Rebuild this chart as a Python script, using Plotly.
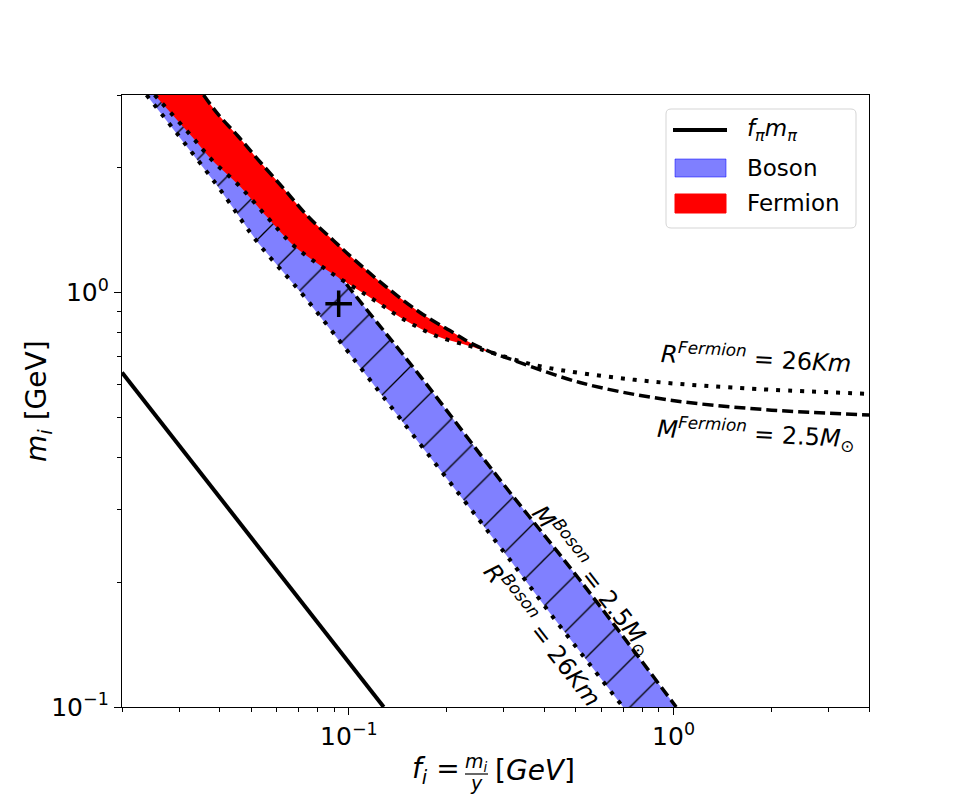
import plotly.graph_objects as go
import numpy as np

# f_pi * m_pi line
fpi_f = [0.02, 0.128]
fpi_m = [0.642, 0.1]

# Boson band edges
r_boson_f = [0.0238, 0.039, 0.0524, 0.0727, 0.1139, 0.3136, 0.416, 0.699]
r_boson_m = [3.0, 1.828, 1.321, 0.981, 0.628, 0.2264, 0.1686, 0.1]
m_boson_f = [0.0343, 0.1012, 0.166, 0.292, 0.5145, 1.019]
m_boson_m = [3.0, 1.018, 0.628, 0.3534, 0.2025, 0.1]

# Fermion band edges (both curves meet at index 12 / 12)
r_fermion_f = [0.0252, 0.02641, 0.03266, 0.03806, 0.04596, 0.05616, 0.06778, 0.0879,
               0.1166, 0.1476, 0.1868, 0.2364, 0.2781, 0.3878, 0.7483, 1.517, 4.0]
r_fermion_m = [3.0, 2.882, 2.392, 2.081, 1.811, 1.518, 1.297, 1.118,
               0.9725, 0.862, 0.785, 0.743, 0.715, 0.6644, 0.617, 0.590, 0.570]
m_fermion_f = [0.03567, 0.03945, 0.04543, 0.05233, 0.06316, 0.07455, 0.08995, 0.1036,
               0.1312, 0.1660, 0.2101, 0.2364, 0.2781, 0.3064, 0.5145, 0.950, 1.925, 4.0]
m_fermion_m = [3.0, 2.700, 2.392, 2.101, 1.778, 1.532, 1.333, 1.204,
               1.028, 0.8947, 0.800, 0.757, 0.715, 0.6963, 0.607, 0.552, 0.522, 0.507]

# nucleon point
point_f = [0.093]
point_m = [0.94]

x_ticks = [0.1, 1]
x_ticktext = ["10<sup>−1</sup>", "10<sup>0</sup>"]
x_minor = [0.02, 0.03, 0.04, 0.05, 0.06, 0.07, 0.08, 0.09,
           0.2, 0.3, 0.4, 0.5, 0.6, 0.7, 0.8, 0.9, 2, 3, 4]
y_ticks = [0.1, 1]
y_ticktext = ["10<sup>−1</sup>", "10<sup>0</sup>"]
y_minor = [0.2, 0.3, 0.4, 0.5, 0.6, 0.7, 0.8, 0.9, 2, 3]

legend_labels = ['<i>f<sub>π</sub>m<sub>π</sub></i>', 'Boson', 'Fermion']

FONT = "DejaVu Sans"
W, H = 965, 794
ML, MR, MT, MB = 122, 96, 95, 87
PW, PH = W - ML - MR, H - MT - MB


def px(x):
    return (x - ML) / PW


def py(y):
    return (H - MB - y) / PH


DOT = dict(color='black', width=4, dash='4px,8px', shape='spline')
DASH = dict(color='black', width=3.5, dash='11px,5px', shape='spline')

fig = go.Figure()

# boson band with hatch
fig.add_trace(go.Scatter(x=r_boson_f + m_boson_f[::-1], y=r_boson_m + m_boson_m[::-1],
                         fill='toself', mode='lines', fillcolor='#8080ff',
                         fillpattern=dict(shape='/', size=33, solidity=0.04,
                                          fgcolor='black', fgopacity=1, bgcolor='#8080ff'),
                         line=dict(width=0), hoverinfo='skip'))
fig.add_trace(go.Scatter(x=r_boson_f, y=r_boson_m, mode='lines', line=DOT))
fig.add_trace(go.Scatter(x=m_boson_f, y=m_boson_m, mode='lines', line=DASH))

# fermion band, filled up to where the two curves meet
k = 13
fig.add_trace(go.Scatter(x=r_fermion_f[:k] + m_fermion_f[:k - 1][::-1],
                         y=r_fermion_m[:k] + m_fermion_m[:k - 1][::-1],
                         fill='toself', mode='lines', fillcolor='red',
                         line=dict(width=0, shape='spline', smoothing=0.8),
                         hoverinfo='skip'))
fig.add_trace(go.Scatter(x=r_fermion_f, y=r_fermion_m, mode='lines', line=DOT))
fig.add_trace(go.Scatter(x=m_fermion_f, y=m_fermion_m, mode='lines', line=DASH))

fig.add_trace(go.Scatter(x=fpi_f, y=fpi_m, mode='lines',
                         line=dict(color='black', width=4)))

fig.add_trace(go.Scatter(x=point_f, y=point_m, mode='markers',
                         marker=dict(symbol='cross-thin', size=19,
                                     line=dict(color='black', width=3.5))))

ann = dict(showarrow=False, font=dict(family=FONT, size=24, color='black'))
fig.add_annotation(x=np.log10(1.80), y=np.log10(0.70), textangle=3,
                   text='<i>R</i><sup><i>Fermion</i></sup> = 26<i>Km</i>', **ann)
fig.add_annotation(x=np.log10(1.80), y=np.log10(0.457), textangle=3,
                   text='<i>M</i><sup><i>Fermion</i></sup> = 2.5<i>M</i><sub>⊙</sub>', **ann)
fig.add_annotation(x=np.log10(0.565), y=np.log10(0.203), textangle=52,
                   text='<i>M</i><sup><i>Boson</i></sup> = 2.5<i>M</i><sub>⊙</sub>', **ann)
fig.add_annotation(x=np.log10(0.398), y=np.log10(0.150), textangle=52,
                   text='<i>R</i><sup><i>Boson</i></sup> = 26<i>Km</i>', **ann)

# axis titles (x title written with a stacked fraction)
paper = dict(xref='paper', yref='paper', showarrow=False)
fig.add_annotation(x=px(462), y=py(770), xanchor='right', yanchor='middle',
                   text='<i>f<sub>i</sub></i> =',
                   font=dict(family=FONT, size=28, color='black'), **paper)
fig.add_annotation(x=px(476), y=py(763), xanchor='center', yanchor='middle',
                   text='<i>m<sub>i</sub></i>',
                   font=dict(family=FONT, size=19, color='black'), **paper)
fig.add_annotation(x=px(476), y=py(783), xanchor='center', yanchor='middle',
                   text='<i>y</i>',
                   font=dict(family=FONT, size=19, color='black'), **paper)
fig.add_shape(type='line', xref='paper', yref='paper', x0=px(465), x1=px(488),
              y0=py(774), y1=py(774), line=dict(color='black', width=1.2))
fig.add_annotation(x=px(493), y=py(770), xanchor='left', yanchor='middle',
                   text='[<i>GeV</i>]',
                   font=dict(family=FONT, size=28, color='black'), **paper)
fig.add_annotation(x=px(38), y=py(401), xanchor='center', yanchor='middle', textangle=-90,
                   text='<i>m<sub>i</sub></i> [GeV]',
                   font=dict(family=FONT, size=28, color='black'), **paper)

# legend drawn by hand so the patches match the reference
x0, x1, y0, y1, r = 666, 856, 109, 228, 5
box = (f"M{px(x0 + r)},{py(y0)} L{px(x1 - r)},{py(y0)} Q{px(x1)},{py(y0)} {px(x1)},{py(y0 + r)} "
       f"L{px(x1)},{py(y1 - r)} Q{px(x1)},{py(y1)} {px(x1 - r)},{py(y1)} "
       f"L{px(x0 + r)},{py(y1)} Q{px(x0)},{py(y1)} {px(x0)},{py(y1 - r)} "
       f"L{px(x0)},{py(y0 + r)} Q{px(x0)},{py(y0)} {px(x0 + r)},{py(y0)} Z")
fig.add_shape(type='path', xref='paper', yref='paper', path=box,
              fillcolor='rgba(255,255,255,0.8)', line=dict(color='#d5d5d5', width=1))
fig.add_shape(type='line', xref='paper', yref='paper', x0=px(673), x1=px(727),
              y0=py(130), y1=py(130), line=dict(color='black', width=4))
fig.add_shape(type='rect', xref='paper', yref='paper', x0=px(675), x1=px(726),
              y0=py(159), y1=py(177), fillcolor='rgba(0,0,255,0.5)',
              line=dict(color='rgba(0,0,255,0.5)', width=1))
fig.add_shape(type='rect', xref='paper', yref='paper', x0=px(675), x1=px(726),
              y0=py(194), y1=py(213), fillcolor='red', line=dict(color='red', width=1))
for lab, yy in zip(legend_labels, [130, 168, 203]):
    fig.add_annotation(x=px(745), y=py(yy), xanchor='left', yanchor='middle', text=lab,
                       font=dict(family=FONT, size=23, color='black'), **paper)

axis_common = dict(type='log', showgrid=False, zeroline=False, showline=True,
                   linecolor='black', linewidth=1.3, mirror=True,
                   ticks='outside', ticklen=7, tickwidth=1.3, tickcolor='black',
                   tickfont=dict(family=FONT, size=25, color='black'))
fig.update_xaxes(range=[np.log10(0.02), np.log10(4)], tickvals=x_ticks, ticktext=x_ticktext,
                 minor=dict(tickvals=x_minor, ticks='outside', ticklen=4, tickwidth=1,
                            tickcolor='black'), **axis_common)
fig.update_yaxes(range=[np.log10(0.1), np.log10(3)], tickvals=y_ticks, ticktext=y_ticktext,
                 minor=dict(tickvals=y_minor, ticks='outside', ticklen=4, tickwidth=1,
                            tickcolor='black'), **axis_common)

fig.update_layout(width=W, height=H, plot_bgcolor='white', paper_bgcolor='white',
                  margin=dict(l=ML, r=MR, t=MT, b=MB), showlegend=False,
                  font=dict(family=FONT, color='black'))

fig.write_html("out.html", config={'displayModeBar': False},
               post_script="document.body.style.margin='0px';")
